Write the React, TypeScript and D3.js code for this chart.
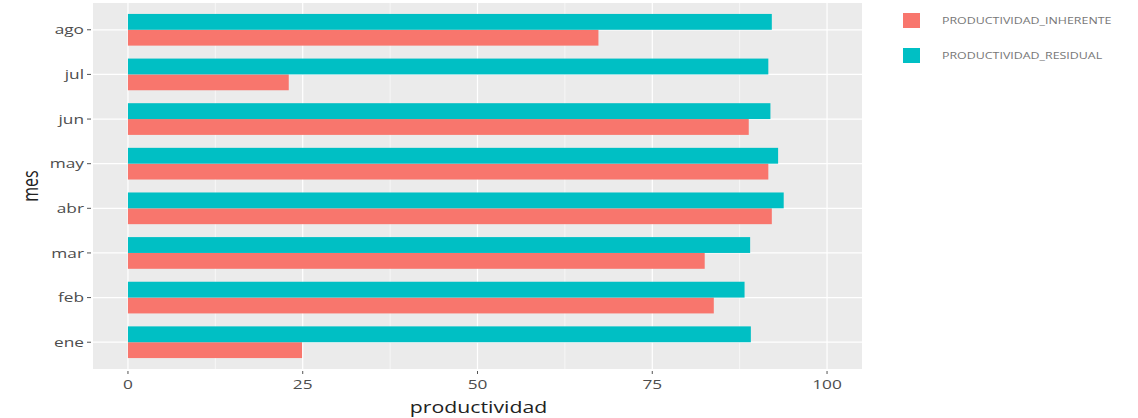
import React from "react";
import * as d3 from "d3";

const months = ["ene", "feb", "mar", "abr", "may", "jun", "jul", "ago"];
const inherente = [24.9, 83.8, 82.5, 92.1, 91.6, 88.8, 23.0, 67.3];
const residual = [89.1, 88.2, 89.0, 93.8, 93.0, 91.9, 91.6, 92.1];
const seriesNames = ["PRODUCTIVIDAD_INHERENTE", "PRODUCTIVIDAD_RESIDUAL"];
const seriesColors = ["#F8766D", "#00BFC4"];
const xTicks = [0, 25, 50, 75, 100];
const xMinor = [12.5, 37.5, 62.5, 87.5];

export default function App() {
  const W = 1138, H = 418;
  const pL = 93, pR = 862, pT = 3, pB = 369;
  const x = d3.scaleLinear().domain([-5, 105]).range([pL, pR]);
  const step = (pB - pT) / 8.2;
  const yc = (i: number) => pB - (0.6 + i) * step;
  const barW = step * 0.71;
  const half = barW / 2;
  const font = "'Open Sans', 'DejaVu Sans', sans-serif";
  const series = [inherente, residual];
  const sx = 1.33;

  return (
    <svg width={W} height={H} style={{ position: "absolute", left: 0, top: 0, background: "#fff" }} fontFamily={font}>
      <rect x={pL} y={pT} width={pR - pL} height={pB - pT} fill="#EBEBEB" />
      {xMinor.map((t) => (
        <line key={"m" + t} x1={x(t)} x2={x(t)} y1={pT} y2={pB} stroke="#fff" strokeWidth={0.6} />
      ))}
      {xTicks.map((t) => (
        <line key={"g" + t} x1={x(t)} x2={x(t)} y1={pT} y2={pB} stroke="#fff" strokeWidth={1.2} />
      ))}
      {months.map((m, i) => (
        <line key={"h" + m} x1={pL} x2={pR} y1={yc(i)} y2={yc(i)} stroke="#fff" strokeWidth={1.2} />
      ))}
      {months.map((m, i) =>
        series.map((s, k) => {
          const y0 = k === 1 ? yc(i) - half : yc(i);
          return (
            <rect key={m + k} x={x(0)} y={y0} width={x(s[i]) - x(0)} height={half} fill={seriesColors[k]} />
          );
        })
      )}
      {months.map((m, i) => (
        <g key={"yl" + m}>
          <line x1={pL - 6} x2={pL - 2} y1={yc(i)} y2={yc(i)} stroke="#555" strokeWidth={1} />
          <text transform={`translate(${pL - 9}, ${yc(i)}) scale(${sx},1)`} dy="0.35em" textAnchor="end" fontSize={13} fill="#4D4D4D">{m}</text>
        </g>
      ))}
      {xTicks.map((t) => (
        <g key={"xl" + t}>
          <line x1={x(t)} x2={x(t)} y1={pB + 2} y2={pB + 5} stroke="#555" strokeWidth={1} />
          <text transform={`translate(${x(t)}, ${pB + 20}) scale(${sx},1)`} textAnchor="middle" fontSize={13} fill="#4D4D4D">{t}</text>
        </g>
      ))}
      <text transform={`translate(${(pL + pR) / 2 + 1}, 413) scale(${sx},1)`} textAnchor="middle" fontSize={16} fill="#222">productividad</text>
      <text transform={`translate(38, ${(pT + pB) / 2}) rotate(-90) scale(1,${sx})`} textAnchor="middle" fontSize={16} fill="#222">mes</text>
      {seriesNames.map((n, k) => (
        <g key={n} transform={`translate(903, ${13 + k * 35})`}>
          <rect x={0} y={0} width={17} height={15} fill={seriesColors[k]} />
          <text transform={`translate(39, 7.5) scale(1.38,1)`} dy="0.35em" fontSize={9} fill="#777">{n}</text>
        </g>
      ))}
    </svg>
  );
}
